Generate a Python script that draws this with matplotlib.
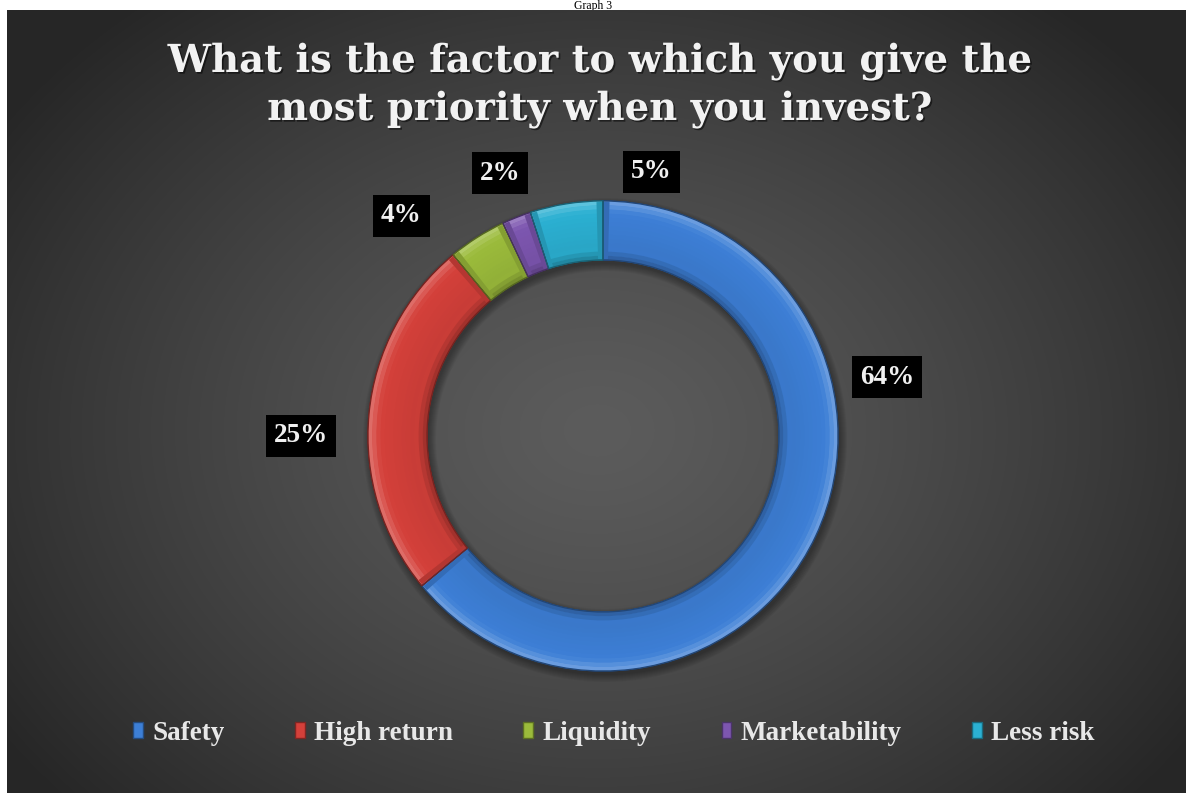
import numpy as np
import matplotlib
matplotlib.use("Agg")
import matplotlib.pyplot as plt
import matplotlib.patheffects as pe
from matplotlib.patches import Wedge, Rectangle
from matplotlib.colors import to_rgb

## Survey data
categories = ['Safety', 'High return', 'Liquidity', 'Marketability', 'Less risk']
shares = [64, 25, 4, 2, 5]
colors = ['#3d7fd6', '#d4403a', '#9bbb3b', '#7d56b0', '#2bb0d2']
title_lines = ['What is the factor to which you give the',
               'most priority when you invest?']

## Layout (pixels, origin top-left)
W, H = 1186, 793
center_px = (603, 436)
r_out, ring_w = 235, 59
label_px = [(887, 377), (301, 436), (401, 216), (500, 173), (651, 172)]


def mix(c, other, t):
    a = np.array(to_rgb(c))
    b = np.array(to_rgb(other))
    return tuple(a*(1-t) + b*t)


fig = plt.figure(figsize=(W/100, H/100), dpi=100)
fig.patch.set_facecolor('white')

# caption in the white strip above the dark panel
fig.text(593/W, 1 - 9/H, 'Graph 3', ha='center', va='baseline',
         fontsize=8.5, family='Liberation Serif', color='black', zorder=-5)

# dark panel with radial gradient
bg = fig.add_axes([7/W, 0, 1 - 7/W, 1 - 10/H])
ph, pw = H - 10, W - 7
yy, xx = np.mgrid[0:ph, 0:pw]
d = np.hypot((xx - 590)/720, (yy - 420)/560)
lum = (92 - 54*np.clip(d, 0, 1)**1.3)/255
bg.imshow(np.dstack([lum]*3), aspect='auto', extent=(0, pw, ph, 0))
bg.set_axis_off()

ax = fig.add_axes([0, 0, 1, 1])
ax.patch.set_alpha(0)
cx, cy = center_px[0], H - center_px[1]

# soft shadow under the ring
for k in range(8):
    ax.add_patch(Wedge((cx + 2, cy - 4), r_out + k, 0, 360, width=ring_w + 2*k,
                       fc='black', ec='none', alpha=0.045, zorder=1))

wedges, _ = ax.pie(shares, colors=colors, startangle=90, counterclock=False,
                   radius=r_out, center=(cx, cy),
                   wedgeprops=dict(width=ring_w, linewidth=0.9))
for w, c in zip(wedges, colors):
    w.set_edgecolor(mix(c, 'black', 0.45))
    w.set_zorder(2)

# bevel shading across the ring width
nb = 14
for w, c in zip(wedges, colors):
    t1, t2 = w.theta1, w.theta2
    for i in range(nb):
        s = (i + 0.5)/nb
        if s < 0.2:
            fc = mix(c, 'white', 0.28*(1 - s/0.2))
        elif s > 0.78:
            fc = mix(c, 'black', 0.28*(s - 0.78)/0.22)
        else:
            fc = mix(c, 'black', 0.06*(s - 0.2)/0.58)
        ax.add_patch(Wedge((cx, cy), r_out - i*ring_w/nb, t1 + 0.25, t2 - 0.25,
                           width=ring_w/nb + 0.3, fc=fc, ec='none', zorder=3))
    # darker facets at the radial ends
    span = min(1.6, (t2 - t1)/4)
    for a0, a1 in [(t1 + 0.25, t1 + span), (t2 - span, t2 - 0.25)]:
        ax.add_patch(Wedge((cx, cy), r_out - 1, a0, a1, width=ring_w - 2,
                           fc=mix(c, 'black', 0.15), ec='none', zorder=4))
    ax.add_patch(Wedge((cx, cy), r_out, t1, t2, width=ring_w, fc='none',
                       ec=mix(c, 'black', 0.45), lw=0.9, zorder=5))

ax.set_xlim(0, W)
ax.set_ylim(0, H)
ax.set_axis_off()

lab_font = dict(family='Liberation Serif', weight='bold', size=19.5)
shadow = [pe.withSimplePatchShadow(offset=(1.2, -1.2), shadow_rgbFace='black', alpha=0.5)]

# percentage labels
for v, (lx, ly) in zip(shares, label_px):
    ax.text(lx, H - ly, f'{v}%', ha='center', va='center', color='#f0f0f0',
            bbox=dict(boxstyle='square,pad=0.3', fc='black', ec='none'),
            zorder=6, **lab_font)

# title
for i, line in enumerate(title_lines):
    fig.text(600/W, 1 - (72 + 48*i)/H, line, ha='center', va='baseline',
             color='#f2f2f2', family='DejaVu Serif', weight='bold', size=27.8,
             path_effects=shadow)

handles = [Rectangle((0, 0), 1, 1, fc=c, ec=mix(c, 'black', 0.4)) for c in colors]
leg = fig.legend(handles, categories, ncol=5, loc='center',
                 bbox_to_anchor=(614/W, (H - 733)/H), frameon=False,
                 prop=lab_font, labelcolor='#e8e8e8', handlelength=0.36,
                 handleheight=0.55, handletextpad=0.35, columnspacing=2.6)

fig.savefig('out.png', dpi=100, facecolor=fig.get_facecolor())
